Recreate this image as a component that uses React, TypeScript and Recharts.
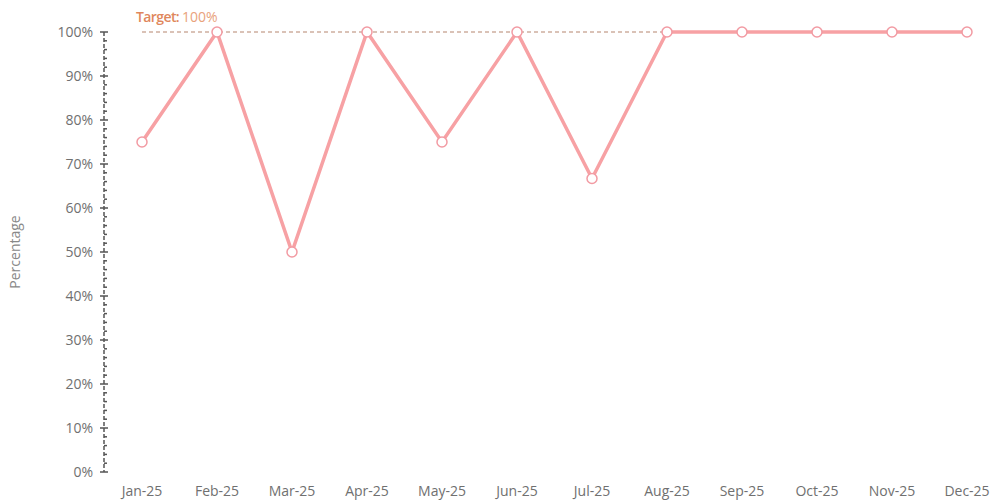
import React from 'react';
import { LineChart, Line, XAxis, YAxis, ReferenceLine } from 'recharts';

const months = ['Jan-25', 'Feb-25', 'Mar-25', 'Apr-25', 'May-25', 'Jun-25', 'Jul-25', 'Aug-25', 'Sep-25', 'Oct-25', 'Nov-25', 'Dec-25'];
const percentages = [75, 100, 50, 100, 75, 100, 66.7, 100, 100, 100, 100, 100];
const targetValue = 100;
const targetLabel = 'Target:';
const yTicks: number[] = [];
for (let v = 0; v <= 100; v += 2) yTicks.push(v);

const data = months.map((m, i) => ({ month: m, value: percentages[i] }));

const FONT = '"Open Sans", sans-serif';

const YTick = (props: any) => {
  const { x, y, payload } = props;
  const v = payload.value as number;
  const axisX = x + 11;
  const major = v % 10 === 0;
  return (
    <g>
      {major ? (
        <>
          <line x1={axisX - 4} x2={axisX + 4} y1={y} y2={y} stroke="#555" strokeWidth={1.5} />
          <text x={x} y={y} dy={5} textAnchor="end" fill="#707070" fontSize={14} fontFamily={FONT}>
            {v}%
          </text>
        </>
      ) : (
        <line x1={axisX} x2={axisX + 3} y1={y} y2={y} stroke="#555" strokeWidth={1.5} />
      )}
    </g>
  );
};

const TargetLabel = (props: any) => {
  const vb = props.viewBox || {};
  return (
    <text x={vb.x - 6} y={vb.y - 10} fontSize={14} fontFamily={FONT}>
      <tspan fill="#e0875c" fontWeight={600} letterSpacing={-0.6}>{targetLabel}</tspan>
      <tspan fill="#e9a27c" dx={3}>{targetValue}%</tspan>
    </text>
  );
};

export default function App() {
  return (
    <div style={{ position: 'absolute', left: 0, top: 0, width: 992, height: 502, background: '#fff' }}>
      <LineChart width={992} height={502} data={data} margin={{ top: 32, right: 8, bottom: 0, left: 0 }}>
        <XAxis
          dataKey="month"
          axisLine={false}
          tickLine={false}
          padding={{ left: 38, right: 17 }}
          height={30}
          tickSize={0}
          tickMargin={14}
          tick={{ fill: '#707070', fontSize: 14, fontFamily: FONT }}
          interval={0}
        />
        <YAxis
          type="number"
          domain={[0, 100]}
          ticks={yTicks}
          interval={0}
          width={104}
          tickSize={8}
          tickMargin={3}
          tickLine={false}
          axisLine={{ stroke: '#555', strokeWidth: 1.5, strokeDasharray: '4 2' }}
          tick={<YTick />}
          label={{
            value: 'Percentage',
            angle: -90,
            position: 'insideLeft',
            dx: 10,
            fill: '#888',
            fontSize: 14,
            fontFamily: FONT,
            style: { textAnchor: 'middle' },
          }}
        />
        <ReferenceLine
          segment={[{ x: months[0], y: targetValue }, { x: months[months.length - 1], y: targetValue }]}
          stroke="#b5856f"
          strokeDasharray="4 3"
          strokeWidth={1}
          label={<TargetLabel />}
        />
        <Line
          type="linear"
          dataKey="value"
          stroke="#f7a1a4"
          strokeWidth={3.5}
          dot={{ r: 5, fill: '#fff', stroke: '#f29ba3', strokeWidth: 1.5 }}
          activeDot={false}
          isAnimationActive={false}
        />
      </LineChart>
    </div>
  );
}
